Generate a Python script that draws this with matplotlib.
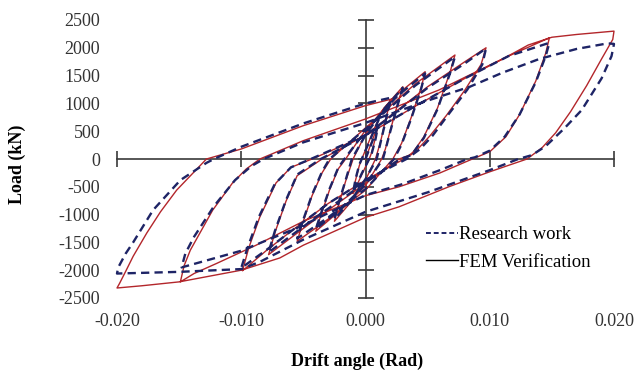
import numpy as np
import matplotlib
matplotlib.use('Agg')
import matplotlib.pyplot as plt
from matplotlib.lines import Line2D

plt.rcParams['font.family'] = ['Liberation Serif', 'DejaVu Serif']
plt.rcParams['axes.unicode_minus'] = False

# axis ticks
x_ticks = [-0.020, -0.010, 0.000, 0.010, 0.020]
x_labels = ['-0.020', '-0.010', '0.000', '0.010', '0.020']
y_ticks = [-2500, -2000, -1500, -1000, -500, 0, 500, 1000, 1500, 2000, 2500]

# FEM verification, drift angle (rad) / load (kN), one row per cycle
fem_drift = [
    0.0000, 0.0004, 0.0010, 0.0008, 0.0005, 0.0003, -0.0003, -0.0010, -0.0008, -0.0005, -0.0003, 0.0004,
    0.0012, 0.0020, 0.0017, 0.0012, 0.0008, 0.0000, -0.0012, -0.0025, -0.0022, -0.0016, -0.0010, 0.0000, 0.0015,
    0.0030, 0.0026, 0.0020, 0.0016, 0.0013, 0.0000, -0.0020, -0.0040, -0.0036, -0.0029, -0.0022, -0.0016, 0.0000, 0.0025,
    0.0048, 0.0045, 0.0037, 0.0029, 0.0022, 0.0000, -0.0030, -0.0055, -0.0051, -0.0043, -0.0035, -0.0028, 0.0000, 0.0040,
    0.0072, 0.0068, 0.0058, 0.0047, 0.0037, 0.0027, 0.0000, -0.0040, -0.0078, -0.0073, -0.0064, -0.0055, -0.0035, 0.0000, 0.0050, 0.0080,
    0.0097, 0.0093, 0.0080, 0.0065, 0.0052, 0.0043, 0.0031, 0.0000, -0.0030, -0.0060, -0.0080, -0.0099, -0.0094, -0.0085, -0.0072, -0.0060, -0.0043, 0.0000, 0.0040, 0.0080, 0.0115,
    0.0148, 0.0145, 0.0137, 0.0124, 0.0113, 0.0100, 0.0086, 0.0060, 0.0027, 0.0000, -0.0050, -0.0088, -0.0120, -0.0138, -0.0149, -0.0146, -0.0141, -0.0123, -0.0107, -0.0096, -0.0085, -0.0050, 0.0000, 0.0059, 0.0092, 0.0113, 0.0131, 0.0150, 0.0170,
    0.0200, 0.0199, 0.0190, 0.0178, 0.0165, 0.0153, 0.0142, 0.0130, 0.0100, 0.0067, 0.0027, 0.0000, -0.0050, -0.0069, -0.0100, -0.0150, -0.0180, -0.0200, -0.0198, -0.0193, -0.0187, -0.0176, -0.0165, -0.0152, -0.0140, -0.0128, -0.0100, -0.0050, 0.0000, 0.0025,
]
fem_load = [
    0, 250, 600, 380, 120, 0, -280, -620, -380, -120, 0, 380,
    800, 1050, 780, 300, 0, -380, -780, -1120, -850, -400, 0, 450, 920,
    1300, 1000, 520, 180, 0, -480, -920, -1300, -1020, -560, -180, 0, 520, 1150,
    1570, 1300, 760, 280, 0, -560, -1080, -1480, -1180, -660, -250, 0, 560, 1350,
    1870, 1560, 920, 400, 80, 0, -440, -1080, -1720, -1330, -760, -300, 0, 430, 1300, 1750,
    2000, 1700, 1240, 780, 420, 200, 0, -380, -800, -1300, -1650, -2010, -1600, -1040, -430, -150, 0, 420, 950, 1450, 1850,
    2180, 1900, 1400, 800, 400, 130, 0, -250, -500, -660, -1120, -1550, -1880, -2060, -2210, -1920, -1640, -920, -430, -180, 0, 330, 720, 1240, 1600, 1830, 2050, 2190, 2240,
    2300, 2150, 1800, 1320, 850, 470, 200, 0, -230, -500, -860, -1050, -1550, -1780, -2000, -2210, -2280, -2320, -2240, -2020, -1750, -1330, -950, -560, -280, 0, 180, 600, 960, 1100,
]

# research work (test), same layout
res_drift = [
    0.0000, 0.0004, 0.0010, 0.0008, 0.0005, 0.0003, -0.0003, -0.0010, -0.0008, -0.0005, -0.0003, 0.0004,
    0.0012, 0.0020, 0.0017, 0.0012, 0.0009, 0.0000, -0.0012, -0.0025, -0.0022, -0.0016, -0.0011, 0.0000, 0.0015,
    0.0030, 0.0026, 0.0020, 0.0016, 0.0014, 0.0000, -0.0020, -0.0040, -0.0036, -0.0029, -0.0022, -0.0017, 0.0000, 0.0025,
    0.0048, 0.0045, 0.0037, 0.0029, 0.0023, 0.0000, -0.0030, -0.0055, -0.0051, -0.0043, -0.0035, -0.0029, 0.0000, 0.0040,
    0.0072, 0.0068, 0.0058, 0.0047, 0.0037, 0.0028, 0.0000, -0.0040, -0.0078, -0.0073, -0.0064, -0.0055, -0.0036, 0.0000, 0.0050, 0.0080,
    0.0097, 0.0094, 0.0082, 0.0066, 0.0054, 0.0044, 0.0033, 0.0000, -0.0030, -0.0060, -0.0080, -0.0100, -0.0095, -0.0086, -0.0073, -0.0060, -0.0044, 0.0000, 0.0040, 0.0080, 0.0115,
    0.0148, 0.0145, 0.0137, 0.0124, 0.0112, 0.0100, 0.0088, 0.0082, 0.0060, 0.0030, 0.0000, -0.0053, -0.0100, -0.0148, -0.0145, -0.0138, -0.0122, -0.0105, -0.0092, -0.0082, -0.0050, 0.0000, 0.0050, 0.0084, 0.0110, 0.0140, 0.0170,
    0.0195, 0.0200, 0.0198, 0.0190, 0.0174, 0.0160, 0.0145, 0.0134, 0.0123, 0.0100, 0.0050, 0.0000, -0.0050, -0.0085, -0.0100, -0.0150, -0.0200, -0.0199, -0.0193, -0.0187, -0.0171, -0.0149, -0.0128, -0.0122, -0.0100, -0.0050, 0.0000, 0.0020,
]
res_load = [
    0, 230, 580, 350, 100, 0, -260, -600, -360, -100, 0, 360,
    780, 1020, 760, 280, 0, -360, -760, -1080, -820, -380, 0, 430, 900,
    1280, 980, 500, 160, 0, -460, -900, -1260, -990, -540, -160, 0, 500, 1120,
    1540, 1280, 740, 260, 0, -540, -1050, -1430, -1150, -640, -230, 0, 540, 1320,
    1840, 1540, 900, 380, 70, 0, -420, -1050, -1680, -1300, -740, -280, 0, 420, 1280, 1720,
    1990, 1700, 1250, 780, 420, 180, 0, -380, -800, -1300, -1640, -1960, -1600, -1050, -450, -150, 0, 430, 950, 1450, 1850,
    2090, 1850, 1380, 800, 400, 150, 30, 0, -200, -450, -650, -1220, -1650, -1950, -1700, -1400, -850, -380, -130, 0, 300, 650, 1050, 1300, 1550, 1800, 1980,
    2080, 2070, 1850, 1450, 880, 550, 230, 70, 0, -200, -600, -950, -1450, -1850, -1980, -2030, -2060, -1950, -1700, -1500, -920, -380, -70, 0, 220, 640, 1000, 1100,
]

fig = plt.figure(figsize=(6.36, 3.72), dpi=100)
ax = fig.add_axes([117 / 636, 74 / 372, 497 / 636, 278 / 372])

ax.plot(fem_drift, fem_load, color='#b3262b', lw=1.0, zorder=3)
ax.plot(res_drift, res_load, color='#1e2466', lw=1.7, ls=(0, (3.5, 2.2)), zorder=4)

# axes crossing at the origin
ax_col = '#3a3a3a'
ax.axhline(0, color=ax_col, lw=1.2, zorder=2)
ax.axvline(0, color=ax_col, lw=1.2, zorder=2)
ax.plot(x_ticks, np.zeros(len(x_ticks)), ls='none', marker='|', ms=12, mew=1.2, color=ax_col, zorder=2)
ax.plot(np.zeros(len(y_ticks)), y_ticks, ls='none', marker='_', ms=12, mew=1.2, color=ax_col, zorder=2)

ax.set_xlim(-0.020, 0.020)
ax.set_ylim(-2500, 2500)
for s in ax.spines.values():
    s.set_visible(False)
ax.set_xticks(x_ticks)
ax.set_xticklabels(x_labels)
ax.set_yticks(y_ticks)
ax.tick_params(length=0, labelsize=13, colors='#333333')
ax.tick_params(axis='y', pad=12)
ax.tick_params(axis='x', pad=11)
for t in ax.get_lines():
    t.set_clip_on(False)

fig.text(357 / 636, 1 - 361 / 372, 'Drift angle (Rad)', ha='center', va='center',
         fontsize=13, fontweight='bold')
fig.text(17 / 636, 1 - 164 / 372, 'Load (kN)', ha='center', va='center',
         rotation=90, fontsize=13, fontweight='bold')

handles = [Line2D([], [], color='#1e2466', lw=1.4, ls=(0, (2.5, 1.5))),
           Line2D([], [], color='black', lw=1.0)]
ax.legend(handles, ['Research work', 'FEM Verification'], frameon=False,
          loc='upper left', bbox_to_anchor=(426 / 636, 1 - 226 / 372),
          bbox_transform=fig.transFigure, fontsize=13.5, handlelength=1.7,
          handletextpad=0.05, labelspacing=0.55, borderpad=0, borderaxespad=0)

fig.savefig('out.png', dpi=100)
